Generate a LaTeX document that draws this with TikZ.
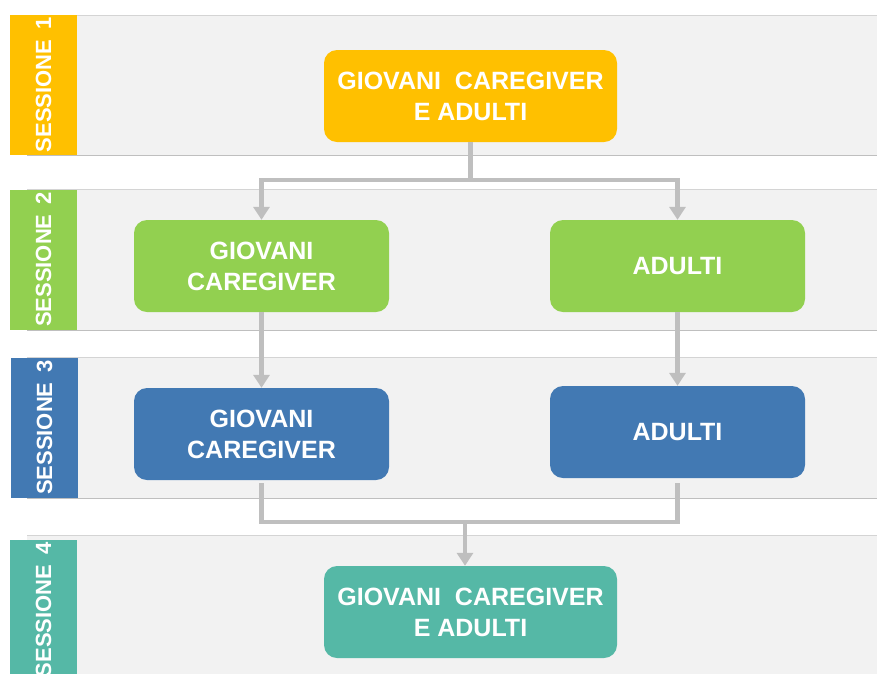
\documentclass[tikz,border=0pt]{standalone}
\usepackage{fontspec}
\setmainfont{Liberation Sans}
\usetikzlibrary{arrows.meta}

\definecolor{sesorange}{HTML}{FFC000}
\definecolor{sesgreen}{HTML}{92D050}
\definecolor{sesblue}{HTML}{4279B3}
\definecolor{sesteal}{HTML}{55B8A6}
\definecolor{bandgray}{HTML}{F2F2F2}
\definecolor{bandline}{HTML}{D4D4D4}
\definecolor{arrowgray}{HTML}{BFBFBF}

\tikzset{
    strip/.style={rectangle, rotate=90, minimum width=140pt, minimum height=67pt, inner sep=0pt,
        text=white, font=\bfseries\fontsize{22}{26}\selectfont},
    box/.style={rectangle, rounded corners=13pt, minimum width=255pt, minimum height=92pt,
        align=center, text=white, font=\bfseries\fontsize{25}{31}\selectfont},
    widebox/.style={box, minimum width=293pt},
    link/.style={draw=arrowgray, line width=4.5pt},
    conn/.style={link, -{Triangle[width=16pt,length=13pt]}}
}

\begin{document}
\begin{tikzpicture}[x=1pt, y=-1pt]
    \clip (0,0) rectangle (877,673);
    \fill[white] (0,0) rectangle (877,673);

    % Session bands
    \fill[bandgray] (27,15) rectangle (877,155);
    \draw[bandline] (27,15) -- (877,15);
    \draw[arrowgray] (27,155) -- (877,155);
    \fill[bandgray] (27,189) rectangle (877,330);
    \draw[bandline] (27,189) -- (877,189);
    \draw[arrowgray] (27,330) -- (877,330);
    \fill[bandgray] (27,357) rectangle (877,498);
    \draw[bandline] (27,357) -- (877,357);
    \draw[arrowgray] (27,498) -- (877,498);
    \fill[bandgray] (27,535) rectangle (877,680);
    \draw[bandline] (27,535) -- (877,535);

    % Session labels
    \node[strip, fill=sesorange] (S1) at (43.5,85) {SESSIONE\hspace{0.45em}1};
    \node[strip, fill=sesgreen] (S2) at (43.5,259.5) {SESSIONE\hspace{0.45em}2};
    \node[strip, fill=sesblue] (S3) at (44.5,427.5) {SESSIONE\hspace{0.45em}3};
    \node[strip, fill=sesteal] (S4) at (43.5,610) {SESSIONE\hspace{0.45em}4};

    % Groups
    \node[widebox, fill=sesorange] (GA1) at (470.5,96) {GIOVANI\ \ CAREGIVER\\E ADULTI};
    \node[box, fill=sesgreen] (GC2) at (261.5,266) {GIOVANI\\CAREGIVER};
    \node[box, fill=sesgreen] (AD2) at (677.5,266) {ADULTI};
    \node[box, fill=sesblue] (GC3) at (261.5,434) {GIOVANI\\CAREGIVER};
    \node[box, fill=sesblue] (AD3) at (677.5,432) {ADULTI};
    \node[widebox, fill=sesteal] (GA4) at (470.5,612) {GIOVANI\ \ CAREGIVER\\E ADULTI};

    % Connections
    \draw[link] (GA1.south) -- ++(0,38) coordinate (split);
    \draw[conn] (split) -| (GC2.north);
    \draw[conn] (split) -| (AD2.north);
    \draw[conn] (GC2) -- (GC3);
    \draw[conn] (AD2) -- (AD3);
    \coordinate (join) at (465,522);
    \draw[link] ([yshift=-3pt]GC3.south) |- (join) -| ([yshift=-5pt]AD3.south);
    \draw[conn] (join) -- (join |- GA4.north);
\end{tikzpicture}
\end{document}
